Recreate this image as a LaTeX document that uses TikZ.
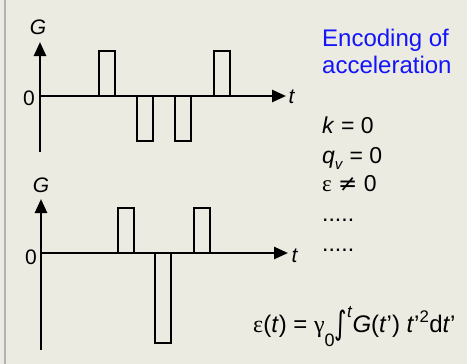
\documentclass[tikz,border=0pt]{standalone}
\usepackage{fontspec}
\usepackage{graphicx}
\setmainfont{Liberation Sans}
\newfontfamily\symfont{DejaVu Sans}
\newfontfamily\grkfont{Liberation Serif}
\usetikzlibrary{arrows.meta}
\definecolor{slidebg}{RGB}{236,235,225}
\definecolor{encblue}{RGB}{20,20,250}

\begin{document}
\begin{tikzpicture}[
  x=1pt, y=-1pt,
  axis/.style={line width=2.6pt, -{Triangle[length=14pt,width=12pt]}},
  pulse/.style={draw, line width=2.2pt},
  lbl/.style={inner sep=0pt, font=\fontsize{21}{24}\selectfont},
  note/.style={inner sep=0pt, anchor=base west, font=\fontsize{23}{27}\selectfont}
]
\useasboundingbox (0,0) rectangle (467,364);
\fill[slidebg] (0,0) rectangle (467,364);
\draw[gray!60, line width=2pt] (5,0) -- (5,364);

% upper plot
\coordinate (o1) at (40,96);
\coordinate (g1) at (40,42);
\coordinate (b1) at (40,152);
\coordinate (t1) at (286,96);
\draw[axis] (b1) -- (g1);
\draw[axis] (o1) -- (t1);
\node[lbl] (G1) at (38,27) {\textit{G}};
\node[lbl] (zero1) at (29,98) {0};
\node[lbl] (tl1) at (292,97) {\textit{t}};
\draw[pulse] (99,96) rectangle (115,51);
\draw[pulse] (137,96) rectangle (153,141);
\draw[pulse] (175,96) rectangle (191,141);
\draw[pulse] (214,96) rectangle (230,51);

% lower plot
\coordinate (o2) at (41,253);
\coordinate (g2) at (41,199);
\coordinate (b2) at (41,350);
\coordinate (t2) at (288,253);
\draw[axis] (b2) -- (g2);
\draw[axis] (o2) -- (t2);
\node[lbl] (G2) at (41,185) {\textit{G}};
\node[lbl] (zero2) at (31,257) {0};
\node[lbl] (tl2) at (295,256) {\textit{t}};
\draw[pulse] (118,253) rectangle (134,208);
\draw[pulse] (155,253) rectangle (171,343);
\draw[pulse] (194,253) rectangle (210,208);

% conditions
\node[note, text=encblue, font=\fontsize{24}{28}\selectfont] (enc1) at (322,46.5) {Encoding of};
\node[note, text=encblue, font=\fontsize{24}{28}\selectfont] (enc2) at (322,74) {acceleration};
\node[note] (kzero) at (322,133) {\textit{k} = 0};
\node[note] (qzero) at (322,163) {\textit{q}\raisebox{-0.3em}{\fontsize{15}{18}\selectfont\textit{v}} = 0};
\node[note] (enz) at (322,191) {{\grkfont ε} {\symfont ≠} 0};
\node[note] (dots1) at (322,221) {.....};
\node[note] (dots2) at (322,251) {.....};
\node[note, font=\fontsize{24}{28}\selectfont] (strain) at (253,332) {{\grkfont ε}(\textit{t}) = {\grkfont γ}\raisebox{-0.6em}{\fontsize{18}{20}\selectfont 0}\raisebox{-0.12em}{\scalebox{1}[1.35]{\symfont ∫}}\raisebox{0.6em}{\fontsize{17}{20}\selectfont\textit{t}}\textit{G}(\textit{t}’) \textit{t}’\textsuperscript{2}d\textit{t}’};
\end{tikzpicture}
\end{document}
